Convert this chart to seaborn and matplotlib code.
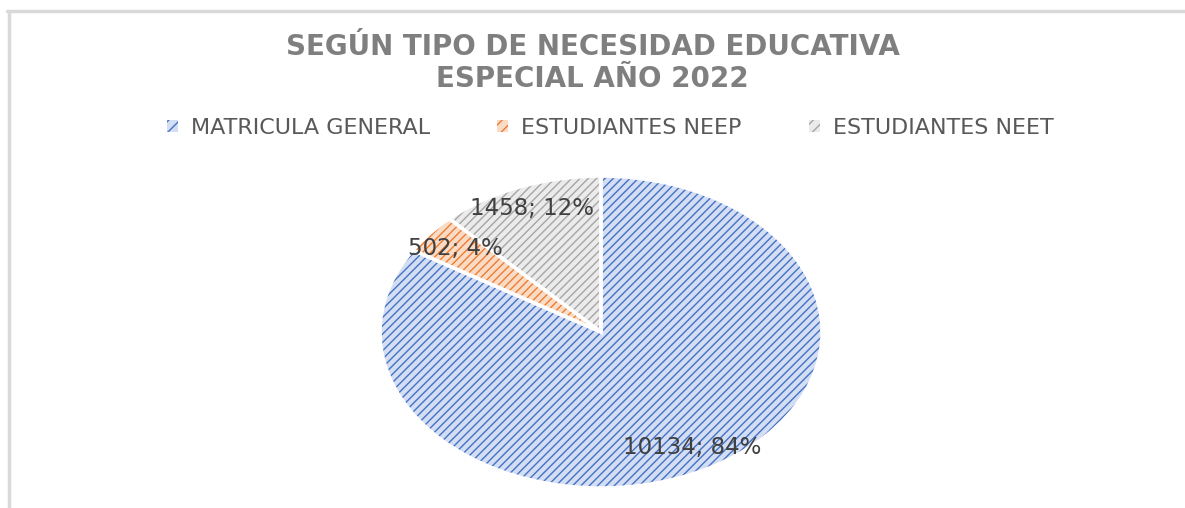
import matplotlib
matplotlib.use("Agg")
import matplotlib.pyplot as plt
from matplotlib.patches import Patch
from matplotlib.lines import Line2D
import seaborn as sns

# data
categories = ["MATRICULA GENERAL", "ESTUDIANTES NEEP", "ESTUDIANTES NEET"]
values = [10134, 502, 1458]
title = "SEGÚN TIPO DE NECESIDAD EDUCATIVA\nESPECIAL AÑO 2022"

sns.set_theme(style="white")
plt.rcParams["font.family"] = ["DejaVu Sans"]
plt.rcParams["hatch.linewidth"] = 1.0

hatch_colors = sns.color_palette(["#4472c4", "#ed7d31", "#a5a5a5"])
face_colors = sns.color_palette(["#d3ddf3", "#fadbc6", "#ebebeb"])

fig = plt.figure(figsize=(11.85, 5.08), dpi=100)
ax = fig.add_axes([0.3207, 0.0394, 0.373, 0.614])

total = sum(values)


def fmt(p):
    v = int(round(p * total / 100))
    return f"{v}; {p:.0f}%"


# base fill
wedges, texts, autotexts = ax.pie(values, colors=face_colors, startangle=90,
                                  counterclock=False, autopct=fmt, pctdistance=0.85,
                                  wedgeprops=dict(linewidth=0),
                                  textprops=dict(color="#404040", fontsize=16.5))
# hatching overlay
hatched, _ = ax.pie(values, colors=["none"] * 3, startangle=90, counterclock=False,
                    wedgeprops=dict(linewidth=0))
for w, hc in zip(hatched, hatch_colors):
    w.set_edgecolor(hc)
    w.set_hatch("////")
# white separators
ax.pie(values, colors=["none"] * 3, startangle=90, counterclock=False,
       wedgeprops=dict(linewidth=2.5, edgecolor="white"))
for t in autotexts:
    t.set_zorder(5)
ax.set_aspect("auto")
ax.set_xlim(-1, 1)
ax.set_ylim(-1, 1)
ax.axis("off")

fig.suptitle(title, y=0.935, fontsize=20, fontweight="bold", color="#7f7f7f",
             linespacing=1.2)

handles = [Patch(facecolor=fc, edgecolor=hc, hatch="///", linewidth=0)
           for fc, hc in zip(face_colors, hatch_colors)]
fig.legend(handles, categories, loc="center", bbox_to_anchor=(0.515, 0.748), ncol=3,
           frameon=False, fontsize=16, handlelength=0.5, handleheight=0.5,
           handletextpad=0.6, columnspacing=3.0, labelcolor="#595959")

# chart frame
fig.add_artist(Line2D([8.5 / 1185, 8.5 / 1185], [0, 1 - 11 / 508], color="#d9d9d9", lw=2.5))
fig.add_artist(Line2D([7 / 1185, 1], [1 - 11 / 508, 1 - 11 / 508], color="#d9d9d9", lw=2.5))

fig.savefig("out.png", dpi=100)
